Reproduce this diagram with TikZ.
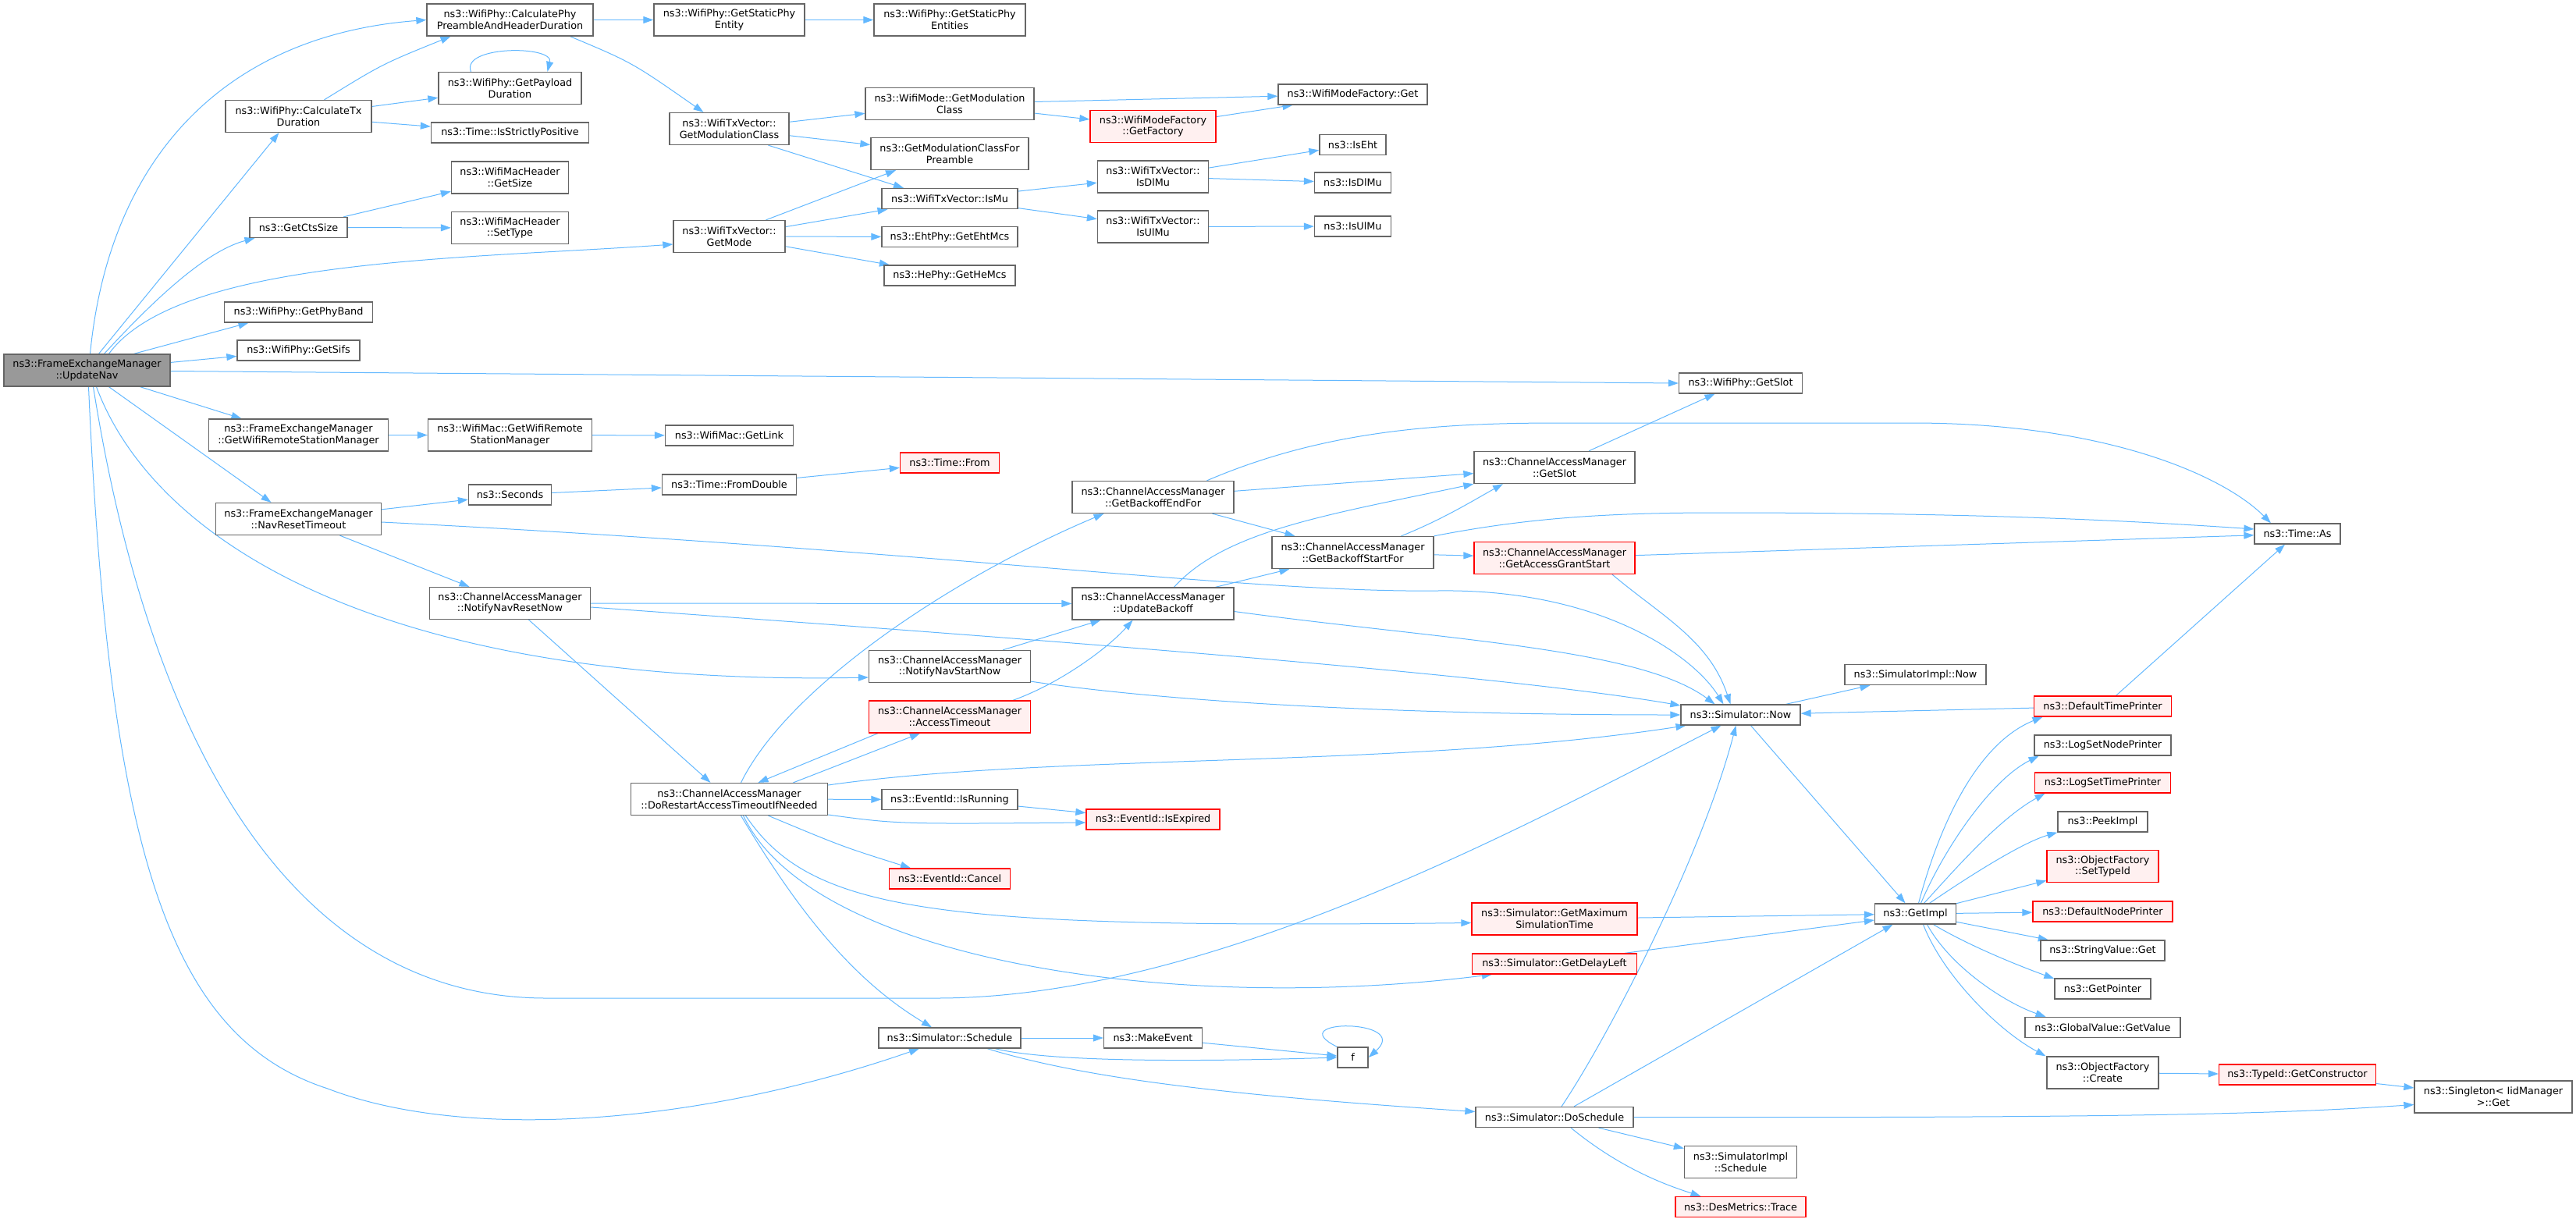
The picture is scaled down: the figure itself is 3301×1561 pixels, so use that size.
\documentclass[tikz,border=0pt]{standalone}
\usepackage{fontspec}
\setmainfont{DejaVu Sans}
\usetikzlibrary{arrows.meta, backgrounds}

\definecolor{edgeblue}{HTML}{63B8FF}
\definecolor{boxgray}{HTML}{666666}
\definecolor{rootgray}{HTML}{999999}
\definecolor{truncfill}{HTML}{FFF0F0}
\newcommand{\fnfont}{\fontsize{12.8}{14.6}\selectfont}

\begin{document}
\begin{tikzpicture} [
    x=1pt, y=-1pt,
    fn/.style={rectangle, draw=boxgray, fill=white, line width=1.3pt, font=\fnfont, align=center, inner sep=0pt, minimum height=26pt},
    fn2/.style={fn, minimum height=41pt},
    root/.style={fill=rootgray},
    trunc/.style={draw=red, fill=truncfill},
    arrow/.style={-{Triangle[length=13pt, width=9pt]}, draw=edgeblue, line width=1pt}
]
\useasboundingbox (0,0) rectangle (3301,1561);

% Layer 1: Define all nodes first, one column per call depth
\node[fn2, root, minimum width=213] (nav) at (111.5,474.5) {ns3::FrameExchangeManager\\::UpdateNav};

\node[fn2, minimum width=187] (calctx) at (382.5,149) {ns3::WifiPhy::CalculateTx\\Duration};
\node[fn, minimum width=125] (ctssize) at (382.5,291.5) {ns3::GetCtsSize};
\node[fn, minimum width=190] (phyband) at (382.5,400) {ns3::WifiPhy::GetPhyBand};
\node[fn, minimum width=157] (sifs) at (382.5,449) {ns3::WifiPhy::GetSifs};
\node[fn2, minimum width=230] (femrsm) at (382.5,557.5) {ns3::FrameExchangeManager\\::GetWifiRemoteStationManager};
\node[fn2, minimum width=212] (navreset) at (382.5,665) {ns3::FrameExchangeManager\\::NavResetTimeout};

\node[fn2, minimum width=213] (calcphy) at (653.5,25.5) {ns3::WifiPhy::CalculatePhy\\PreambleAndHeaderDuration};
\node[fn2, minimum width=183] (payload) at (653.5,113) {ns3::WifiPhy::GetPayload\\Duration};
\node[fn, minimum width=202] (strictpos) at (653.5,170) {ns3::Time::IsStrictlyPositive};
\node[fn2, minimum width=150] (hdrsize) at (653.5,227.5) {ns3::WifiMacHeader\\::GetSize};
\node[fn2, minimum width=150] (settype) at (653.5,292) {ns3::WifiMacHeader\\::SetType};
\node[fn2, minimum width=210] (macrsm) at (653.5,557.5) {ns3::WifiMac::GetWifiRemote\\StationManager};
\node[fn, minimum width=106] (seconds) at (653.5,634) {ns3::Seconds};
\node[fn2, minimum width=206] (resetnow) at (653.5,773) {ns3::ChannelAccessManager\\::NotifyNavResetNow};

\node[fn2, minimum width=193] (staticent) at (934.5,25.5) {ns3::WifiPhy::GetStaticPhy\\Entity};
\node[fn2, minimum width=153] (txmodcls) at (934.5,165) {ns3::WifiTxVector::\\GetModulationClass};
\node[fn2, minimum width=143] (getmode) at (934.5,303) {ns3::WifiTxVector::\\GetMode};
\node[fn, minimum width=164] (getlink) at (934.5,558) {ns3::WifiMac::GetLink};
\node[fn, minimum width=172] (fromdbl) at (934.5,621) {ns3::Time::FromDouble};
\node[fn2, minimum width=252] (restart) at (934.5,1024) {ns3::ChannelAccessManager\\::DoRestartAccessTimeoutIfNeeded};

\node[fn2, minimum width=194] (staticents) at (1217,25.5) {ns3::WifiPhy::GetStaticPhy\\Entities};
\node[fn2, minimum width=216] (modecls) at (1217,133) {ns3::WifiMode::GetModulation\\Class};
\node[fn2, minimum width=202] (preamble) at (1217,197) {ns3::GetModulationClassFor\\Preamble};
\node[fn, minimum width=174] (txismu) at (1217,254.5) {ns3::WifiTxVector::IsMu};
\node[fn, minimum width=174] (ehtmcs) at (1217,303.5) {ns3::EhtPhy::GetEhtMcs};
\node[fn, minimum width=168] (hemcs) at (1217,353) {ns3::HePhy::GetHeMcs};
\node[fn, trunc, minimum width=127] (timefrom) at (1217,593) {ns3::Time::From};
\node[fn2, minimum width=207] (startnow) at (1217,854) {ns3::ChannelAccessManager\\::NotifyNavStartNow};
\node[fn2, trunc, minimum width=207] (acctimeout) at (1217,918.5) {ns3::ChannelAccessManager\\::AccessTimeout};
\node[fn, minimum width=174] (isrunning) at (1217,1024.5) {ns3::EventId::IsRunning};
\node[fn, trunc, minimum width=155] (cancel) at (1217,1126) {ns3::EventId::Cancel};
\node[fn, minimum width=182] (schedule) at (1217,1330) {ns3::Simulator::Schedule};

\node[fn2, trunc, minimum width=161] (factory) at (1477.5,162) {ns3::WifiModeFactory\\::GetFactory};
\node[fn2, minimum width=142] (txisdl) at (1477.5,226.5) {ns3::WifiTxVector::\\IsDlMu};
\node[fn2, minimum width=142] (txisul) at (1477.5,290.5) {ns3::WifiTxVector::\\IsUlMu};
\node[fn2, minimum width=207] (endfor) at (1477.5,637) {ns3::ChannelAccessManager\\::GetBackoffEndFor};
\node[fn2, minimum width=207] (updbackoff) at (1477.5,773.5) {ns3::ChannelAccessManager\\::UpdateBackoff};
\node[fn, trunc, minimum width=171] (isexpired) at (1477.5,1050) {ns3::EventId::IsExpired};
\node[fn, minimum width=126] (makeevent) at (1477.5,1330) {ns3::MakeEvent};

\node[fn, minimum width=191] (factoryget) at (1733.5,121) {ns3::WifiModeFactory::Get};
\node[fn, minimum width=85] (iseht) at (1733.5,185.5) {ns3::IsEht};
\node[fn, minimum width=98] (isdl) at (1733.5,234) {ns3::IsDlMu};
\node[fn, minimum width=98] (isul) at (1733.5,290) {ns3::IsUlMu};
\node[fn2, minimum width=207] (startfor) at (1733.5,708) {ns3::ChannelAccessManager\\::GetBackoffStartFor};
\node[fn, minimum width=39] (f) at (1733.5,1355) {f};

\node[fn2, minimum width=206] (camslot) at (1992,599) {ns3::ChannelAccessManager\\::GetSlot};
\node[fn2, trunc, minimum width=206] (grant) at (1992,715) {ns3::ChannelAccessManager\\::GetAccessGrantStart};
\node[fn2, trunc, minimum width=212] (maxsim) at (1992,1177.5) {ns3::Simulator::GetMaximum\\SimulationTime};
\node[fn, trunc, minimum width=211] (delayleft) at (1992,1235) {ns3::Simulator::GetDelayLeft};
\node[fn, minimum width=202] (dosched) at (1992,1431.5) {ns3::Simulator::DoSchedule};

\node[fn, minimum width=158] (physlot) at (2230.5,491) {ns3::WifiPhy::GetSlot};
\node[fn, minimum width=153] (simnow) at (2230.5,916) {ns3::Simulator::Now};
\node[fn2, minimum width=144] (implsched) at (2230.5,1489) {ns3::SimulatorImpl\\::Schedule};
\node[fn, trunc, minimum width=167] (trace) at (2230.5,1546.5) {ns3::DesMetrics::Trace};

\node[fn, minimum width=181] (implnow) at (2454.5,864.5) {ns3::SimulatorImpl::Now};
\node[fn, minimum width=104] (getimpl) at (2454.5,1171) {ns3::GetImpl};

\node[fn, trunc, minimum width=176] (deftime) at (2694.5,905) {ns3::DefaultTimePrinter};
\node[fn, minimum width=175] (lognode) at (2694.5,955) {ns3::LogSetNodePrinter};
\node[fn, trunc, minimum width=174] (logtime) at (2694.5,1003) {ns3::LogSetTimePrinter};
\node[fn, minimum width=115] (peek) at (2694.5,1053) {ns3::PeekImpl};
\node[fn2, trunc, minimum width=143] (settypeid) at (2694.5,1110) {ns3::ObjectFactory\\::SetTypeId};
\node[fn, trunc, minimum width=179] (defnode) at (2694.5,1168) {ns3::DefaultNodePrinter};
\node[fn, minimum width=159] (strget) at (2694.5,1218) {ns3::StringValue::Get};
\node[fn, minimum width=123] (getptr) at (2694.5,1267) {ns3::GetPointer};
\node[fn, minimum width=199] (gvget) at (2694.5,1316.5) {ns3::GlobalValue::GetValue};
\node[fn2, minimum width=143] (create) at (2694.5,1374.5) {ns3::ObjectFactory\\::Create};

\node[fn, minimum width=110] (timeas) at (2944,684) {ns3::Time::As};
\node[fn, trunc, minimum width=201] (getctor) at (2944,1377) {ns3::TypeId::GetConstructor};

\node[fn2, minimum width=202] (singleton) at (3195,1405.5) {ns3::Singleton< IidManager\\ >::Get};

% Layer 2: Draw all calls in background
\begin{scope}[on background layer]
    % UpdateNav
    \draw[arrow] ([xshift=4pt]nav.north) .. controls (140,200) and (290,45) .. (calcphy.west);
    \draw[arrow] ([xshift=15pt]nav.north) -- ([xshift=-25pt]calctx.south);
    \draw[arrow] ([xshift=22pt]nav.north) .. controls (210,370) and (270,320) .. ([xshift=-56pt]ctssize.south);
    \draw[arrow] ([xshift=28pt]nav.north) .. controls (230,330) and (600,332) .. ([yshift=-10pt]getmode.west);
    \draw[arrow] ([xshift=60pt]nav.north) -- ([xshift=-64pt]phyband.south);
    \draw[arrow] (nav) -- (sifs);
    \draw[arrow] ([yshift=-1pt]nav.east) -- (physlot.west);
    \draw[arrow] ([xshift=68pt]nav.south) -- ([xshift=-73pt]femrsm.north);
    \draw[arrow] ([xshift=28pt]nav.south) -- ([xshift=-35pt]navreset.north);
    \draw[arrow] ([xshift=12pt]nav.south) .. controls (200,700) and (500,880) .. ([yshift=-14pt]startnow.west);
    \draw[arrow] ([xshift=8pt]nav.south) .. controls (200,1000) and (400,1279) .. (700,1279) -- (1200,1279) .. controls (1550,1279) and (1950,1060) .. ([xshift=-25pt]simnow.south);
    \draw[arrow] ([xshift=2pt]nav.south) .. controls (140,1100) and (220,1330) .. (420,1395) .. controls (600,1464) and (900,1440) .. ([xshift=-39pt]schedule.south);

    % WifiPhy branch
    \draw[arrow] (calcphy) -- (staticent);
    \draw[arrow] ([xshift=77pt]calcphy.south) .. controls (810,80) .. ([xshift=-33pt]txmodcls.north);
    \draw[arrow] (staticent) -- (staticents);
    \draw[arrow] ([xshift=33pt]calctx.north) .. controls (490,82) .. ([xshift=-76pt]calcphy.south);
    \draw[arrow] (calctx) -- (payload);
    \draw[arrow] (calctx) -- (strictpos);
    \draw[arrow] ([xshift=-50pt]payload.north) .. controls (590,58) and (710,58) .. ([xshift=48pt]payload.north);
    \draw[arrow] (ctssize) -- (hdrsize);
    \draw[arrow] (ctssize) -- (settype);

    % WifiTxVector branch
    \draw[arrow] (txmodcls) -- (modecls);
    \draw[arrow] (txmodcls) -- (preamble);
    \draw[arrow] ([xshift=50pt]txmodcls.south) -- ([xshift=-59pt]txismu.north);
    \draw[arrow] (modecls) -- (factoryget);
    \draw[arrow] (modecls) -- (factory);
    \draw[arrow] (factory) -- ([xshift=-77pt]factoryget.south);
    \draw[arrow] (getmode) -- (txismu);
    \draw[arrow] ([xshift=47pt]getmode.north) -- ([xshift=-69pt]preamble.south);
    \draw[arrow] (getmode) -- (ehtmcs);
    \draw[arrow] (getmode) -- (hemcs);
    \draw[arrow] (txismu) -- (txisdl);
    \draw[arrow] (txismu) -- (txisul);
    \draw[arrow] (txisdl) -- (iseht);
    \draw[arrow] (txisdl) -- (isdl);
    \draw[arrow] (txisul) -- (isul);

    % Station manager and NAV reset
    \draw[arrow] (femrsm) -- (macrsm);
    \draw[arrow] (macrsm) -- (getlink);
    \draw[arrow] (navreset) -- (seconds);
    \draw[arrow] (seconds) -- (fromdbl);
    \draw[arrow] (fromdbl) -- (timefrom);
    \draw[arrow] ([xshift=53pt]navreset.south) -- ([xshift=-52pt]resetnow.north);
    \draw[arrow] ([yshift=-4pt]navreset.east) .. controls (1200,705) and (1600,760) .. (1842,757) .. controls (2050,754) and (2170,840) .. ([xshift=-22pt]simnow.north);
    \draw[arrow] (resetnow) -- (updbackoff);
    \draw[arrow] ([yshift=-5pt]resetnow.east) .. controls (1200,810) and (1900,860) .. ([yshift=12pt]simnow.west);
    \draw[arrow] ([xshift=24pt]resetnow.south) -- ([xshift=-24pt]restart.north);

    % ChannelAccessManager
    \draw[arrow] ([xshift=68pt]startnow.north) -- ([xshift=-67pt]updbackoff.south);
    \draw[arrow] ([yshift=2pt]startnow.south east) .. controls (1500,900) and (1800,916) .. (simnow.west);
    \draw[arrow] ([xshift=81pt]acctimeout.north) .. controls (1360,875) and (1420,830) .. ([xshift=-26pt]updbackoff.south);
    \draw[arrow] ([xshift=-92pt]acctimeout.south) -- ([xshift=37pt]restart.north);
    \draw[arrow] ([xshift=82pt]restart.north) -- ([xshift=-38pt]acctimeout.south);
    \draw[arrow] ([xshift=15pt]restart.north) .. controls (1010,880) and (1220,740) .. ([xshift=-63pt]endfor.south);
    \draw[arrow] ([yshift=18pt]restart.east) .. controls (1350,965) and (1800,985) .. ([xshift=-70pt]simnow.south);
    \draw[arrow] (restart) -- (isrunning);
    \draw[arrow] ([yshift=-20pt]restart.east) .. controls (1150,1056) .. ([yshift=-4pt]isexpired.west);
    \draw[arrow] ([xshift=50pt]restart.south) .. controls (1080,1085) .. ([xshift=-50pt]cancel.north);
    \draw[arrow] ([xshift=21pt]restart.south) .. controls (1040,1170) and (1200,1190) .. ([yshift=-5pt]maxsim.west);
    \draw[arrow] ([xshift=18pt]restart.south) .. controls (1040,1230) and (1500,1300) .. ([xshift=-80pt]delayleft.south);
    \draw[arrow] ([xshift=15pt]restart.south) .. controls (1030,1180) and (1100,1260) .. ([xshift=-23pt]schedule.north);
    \draw[arrow] (isrunning) -- (isexpired);
    \draw[arrow] ([xshift=69pt]endfor.north) .. controls (1700,550) and (1850,542) .. (2000,542) -- (2450,542) .. controls (2700,542) and (2850,610) .. ([xshift=-34pt]timeas.north);
    \draw[arrow] (endfor) -- (camslot);
    \draw[arrow] ([xshift=76pt]endfor.south) -- ([xshift=-74pt]startfor.north);
    \draw[arrow] ([xshift=27pt]updbackoff.north) .. controls (1570,680) and (1700,660) .. (camslot.south west);
    \draw[arrow] ([xshift=80pt]updbackoff.north) -- ([xshift=-81pt]startfor.south);
    \draw[arrow] ([yshift=-10pt]updbackoff.east) .. controls (1850,820) and (2100,830) .. ([xshift=-33pt]simnow.north);
    \draw[arrow] ([xshift=62pt]startfor.north) .. controls (1850,665) and (1890,640) .. ([xshift=-66pt]camslot.south);
    \draw[arrow] (startfor.north east) .. controls (1950,665) and (2050,657) .. (2200,657) .. controls (2500,657) and (2700,665) .. ([yshift=6pt]timeas.west);
    \draw[arrow] (startfor) -- (grant);
    \draw[arrow] (grant) -- (timeas);
    \draw[arrow] ([xshift=74pt]grant.south) .. controls (2130,790) and (2190,820) .. ([xshift=-13pt]simnow.north);
    \draw[arrow] ([xshift=44pt]camslot.north) -- ([xshift=-33pt]physlot.south);

    % Simulator
    \draw[arrow] ([xshift=58pt]simnow.north) -- ([xshift=-58pt]implnow.south);
    \draw[arrow] ([xshift=13pt]simnow.south) -- ([xshift=-13pt]getimpl.north);
    \draw[arrow] (deftime) -- (simnow);
    \draw[arrow] ([xshift=17pt]deftime.north) -- ([xshift=-16pt]timeas.south);
    \draw[arrow] (maxsim) -- (getimpl);
    \draw[arrow] ([xshift=90pt]delayleft.north) -- ([yshift=-8pt]getimpl.west);
    \draw[arrow] (schedule) -- (makeevent);
    \draw[arrow] ([xshift=58pt]schedule.south) .. controls (1350,1362) and (1550,1360) .. (f.west);
    \draw[arrow] ([xshift=48pt]schedule.south) .. controls (1400,1385) and (1600,1405) .. ([yshift=7pt]dosched.west);
    \draw[arrow] (makeevent) -- (f);
    \draw[arrow] (f.north west) .. controls (1640,1305) and (1810,1305) .. (f.east);
    \draw[arrow] ([xshift=9pt]dosched.north) .. controls (2060,1330) and (2180,1100) .. ([xshift=-6pt]simnow.south);
    \draw[arrow] ([xshift=25pt]dosched.north) -- ([xshift=-29pt]getimpl.south);
    \draw[arrow] (dosched.east) .. controls (2800,1433) and (2950,1425) .. ([yshift=-10pt]singleton.west);
    \draw[arrow] (dosched) -- (implsched);
    \draw[arrow] ([xshift=21pt]dosched.south) .. controls (2080,1500) and (2140,1520) .. ([xshift=-51pt]trace.north);

    % GetImpl fan
    \draw[arrow] ([xshift=4pt]getimpl.north) .. controls (2490,1040) and (2540,950) .. ([xshift=-77pt]deftime.south);
    \draw[arrow] ([xshift=7pt]getimpl.north) .. controls (2490,1090) and (2550,1000) .. ([xshift=-82pt]lognode.south);
    \draw[arrow] ([xshift=11pt]getimpl.north) .. controls (2500,1120) and (2560,1050) .. ([xshift=-74pt]logtime.south);
    \draw[arrow] ([xshift=18pt]getimpl.north) .. controls (2520,1125) and (2590,1080) .. (peek.south west);
    \draw[arrow] (getimpl) -- (settypeid);
    \draw[arrow] (getimpl) -- (defnode);
    \draw[arrow] (getimpl) -- (strget);
    \draw[arrow] ([xshift=23pt]getimpl.south) .. controls (2520,1210) and (2580,1235) .. ([yshift=13pt]getptr.west);
    \draw[arrow] ([xshift=15pt]getimpl.south) .. controls (2500,1240) and (2570,1285) .. ([xshift=-73pt]gvget.north);
    \draw[arrow] ([xshift=10pt]getimpl.south) .. controls (2490,1250) and (2560,1320) .. ([xshift=-73pt]create.north);
    \draw[arrow] (create) -- (getctor);
    \draw[arrow] (getctor) -- (singleton);
\end{scope}

\end{tikzpicture}
\end{document}
